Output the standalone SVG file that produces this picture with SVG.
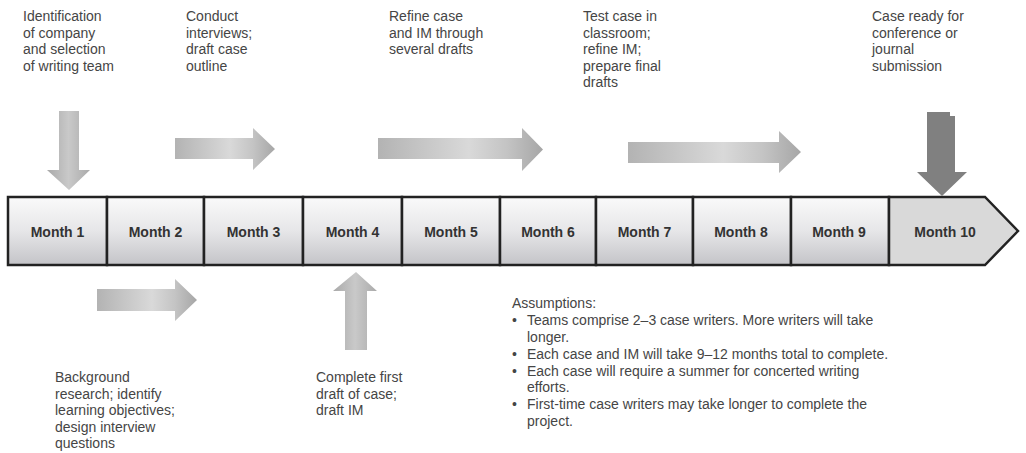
<svg xmlns="http://www.w3.org/2000/svg" width="1026" height="453" viewBox="0 0 1026 453">
<defs>
<linearGradient id="gh" x1="0" y1="0" x2="1" y2="0">
<stop offset="0" stop-color="#b3b3b3"/>
<stop offset="0.55" stop-color="#d9d9d9"/>
<stop offset="0.78" stop-color="#c4c4c4"/>
<stop offset="1" stop-color="#a6a6a6"/>
</linearGradient>
<linearGradient id="gv" x1="0" y1="0" x2="1" y2="0">
<stop offset="0" stop-color="#a9a9a9"/>
<stop offset="0.5" stop-color="#c9c9c9"/>
<stop offset="1" stop-color="#aaaaaa"/>
</linearGradient>
<linearGradient id="gc" x1="0" y1="0" x2="0" y2="1">
<stop offset="0" stop-color="#fafafa"/>
<stop offset="0.5" stop-color="#e6e6e8"/>
<stop offset="1" stop-color="#c4c4c8"/>
</linearGradient>
<style>
.lbl{font-family:"Liberation Sans",Arial,sans-serif;font-size:14px;fill:#454545}
.mon{font-family:"Liberation Sans",Arial,sans-serif;font-size:14px;font-weight:bold;fill:#333;text-anchor:middle}
.cell{fill:url(#gc);stroke:#222;stroke-width:2.5}
.ah{fill:url(#gh)}
.av{fill:url(#gv)}
</style>
</defs>

<g id="timeline">
<rect class="cell" x="8" y="197" width="99" height="68"/>
<rect class="cell" x="107" y="197" width="97" height="68"/>
<rect class="cell" x="204" y="197" width="99" height="68"/>
<rect class="cell" x="303" y="197" width="99" height="68"/>
<rect class="cell" x="402" y="197" width="98" height="68"/>
<rect class="cell" x="500" y="197" width="96" height="68"/>
<rect class="cell" x="596" y="197" width="97" height="68"/>
<rect class="cell" x="693" y="197" width="98" height="68"/>
<rect class="cell" x="791" y="197" width="98" height="68"/>
<path d="M889,197 L985,197 L1018,231 L985,265 L889,265 Z" fill="#d9d9d9" stroke="#222" stroke-width="2.5" stroke-linejoin="miter"/>
<text class="mon" x="57.5" y="237">Month 1</text>
<text class="mon" x="155.5" y="237">Month 2</text>
<text class="mon" x="253.5" y="237">Month 3</text>
<text class="mon" x="352.5" y="237">Month 4</text>
<text class="mon" x="451" y="237">Month 5</text>
<text class="mon" x="548" y="237">Month 6</text>
<text class="mon" x="644.5" y="237">Month 7</text>
<text class="mon" x="741" y="237">Month 8</text>
<text class="mon" x="839" y="237">Month 9</text>
<text class="mon" x="945" y="237">Month 10</text>
</g>

<g id="connectors">
<path class="av" d="M59,111 L79,111 L79,170 L90,170 L69,190 L47,170 L59,170 Z"/>
<path class="ah" d="M175,138 L253,138 L253,128 L275,149 L253,170 L253,159 L175,159 Z"/>
<path class="ah" d="M378,138 L522,138 L522,128 L543,149.5 L522,171 L522,159 L378,159 Z"/>
<path class="ah" d="M628,142 L779,142 L779,131 L801,152 L779,173 L779,163 L628,163 Z"/>
<path d="M927,112 L950,112 L950,116 L955,116 L955,172 L967,172 L942,196 L917,172 L927,172 Z" fill="#808080"/>
<path class="ah" d="M97,289 L175,289 L175,279 L197,300 L175,321 L175,311 L97,311 Z"/>
<path class="av" d="M345,350 L367,350 L367,291 L377,291 L356,272 L333,291 L345,291 Z"/>
</g>

<g id="n1">
<text class="lbl" x="23"><tspan x="23" y="21">Identification</tspan><tspan x="23" y="37.5">of company</tspan><tspan x="23" y="54">and selection</tspan><tspan x="23" y="70.5">of writing team</tspan></text>
</g>
<g id="n2">
<text class="lbl"><tspan x="186" y="21">Conduct</tspan><tspan x="186" y="37.5">interviews;</tspan><tspan x="186" y="54">draft case</tspan><tspan x="186" y="70.5">outline</tspan></text>
</g>
<g id="n3">
<text class="lbl"><tspan x="389" y="21">Refine case</tspan><tspan x="389" y="37.5">and IM through</tspan><tspan x="389" y="54">several drafts</tspan></text>
</g>
<g id="n4">
<text class="lbl"><tspan x="583" y="21">Test case in</tspan><tspan x="583" y="37.5">classroom;</tspan><tspan x="583" y="54">refine IM;</tspan><tspan x="583" y="70.5">prepare final</tspan><tspan x="583" y="87">drafts</tspan></text>
</g>
<g id="n5">
<text class="lbl"><tspan x="872" y="21">Case ready for</tspan><tspan x="872" y="37.5">conference or</tspan><tspan x="872" y="54">journal</tspan><tspan x="872" y="70.5">submission</tspan></text>
</g>
<g id="n6">
<text class="lbl"><tspan x="55" y="382">Background</tspan><tspan x="55" y="398.5">research; identify</tspan><tspan x="55" y="415">learning objectives;</tspan><tspan x="55" y="431.5">design interview</tspan><tspan x="55" y="448">questions</tspan></text>
</g>
<g id="n7">
<text class="lbl"><tspan x="316" y="382">Complete first</tspan><tspan x="316" y="398.5">draft of case;</tspan><tspan x="316" y="415">draft IM</tspan></text>
</g>
<g id="assumptions">
<text class="lbl"><tspan x="512" y="308">Assumptions:</tspan></text>
<text class="lbl"><tspan x="512" y="325">•</tspan><tspan x="527" y="325">Teams comprise 2–3 case writers. More writers will take</tspan><tspan x="527" y="342">longer.</tspan></text>
<text class="lbl"><tspan x="512" y="358.5">•</tspan><tspan x="527" y="358.5">Each case and IM will take 9–12 months total to complete.</tspan></text>
<text class="lbl"><tspan x="512" y="375.5">•</tspan><tspan x="527" y="375.5">Each case will require a summer for concerted writing</tspan><tspan x="527" y="392">efforts.</tspan></text>
<text class="lbl"><tspan x="512" y="409">•</tspan><tspan x="527" y="409">First-time case writers may take longer to complete the</tspan><tspan x="527" y="426">project.</tspan></text>
</g>
</svg>
